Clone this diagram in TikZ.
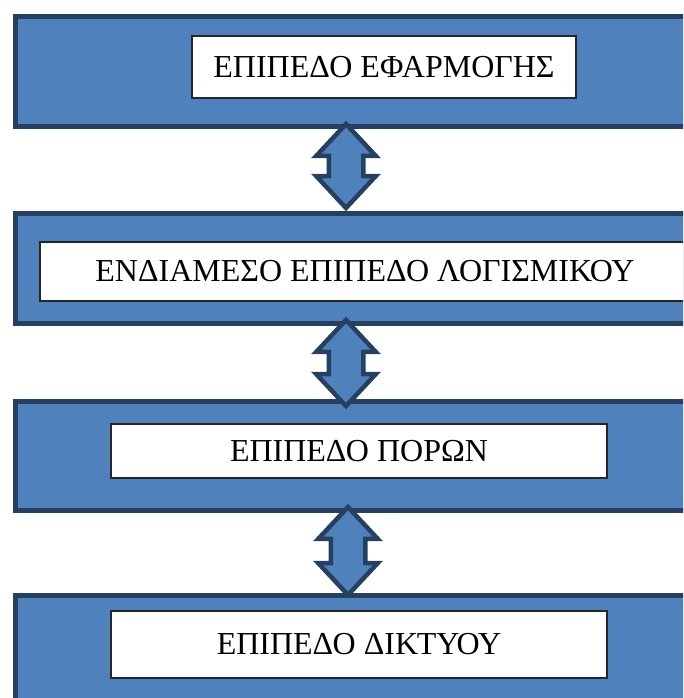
\documentclass[tikz,border=0pt]{standalone}
\usepackage{fontspec}
\setmainfont{Liberation Serif}
\usepackage{tikz}
\usetikzlibrary{shapes.arrows, positioning}
\definecolor{bandfill}{RGB}{79,129,189}
\definecolor{bandline}{RGB}{38,64,97}
\tikzstyle{layer}=[rectangle, draw=bandline, fill=bandfill, line width=5pt, anchor=north west, minimum width=700pt, inner sep=0pt]
\tikzstyle{tag}=[rectangle, draw=black!85, fill=white, line width=1.3pt, inner sep=0pt, font=\fontsize{32}{32}\selectfont]
\tikzstyle{updown}=[double arrow, rotate=90, draw=bandline, fill=bandfill, line width=4.5pt, inner xsep=0pt, inner ysep=15pt, double arrow head extend=12.5pt, double arrow tip angle=86]

\begin{document}
\begin{tikzpicture}[x=1pt, y=-1pt]
    \useasboundingbox (0,0) rectangle (683,698);
    \clip (0,0) rectangle (683,698);

    % layers
    \node[layer, minimum height=110pt] (app) at (12.5,14) {};
    \node[layer, minimum height=110pt] (mid) at (12.5,210.5) {};
    \node[layer, minimum height=109pt] (res) at (12.5,398.5) {};
    \node[layer, minimum height=120pt] (net) at (12.5,592.5) {};

    % labels
    \node[tag, minimum width=384pt, minimum height=62pt] (appt) at (384,67) {ΕΠΙΠΕΔΟ ΕΦΑΡΜΟΓΗΣ};
    \node[tag, minimum width=650pt, minimum height=59pt] (midt) at (365,271.5) {ΕΝΔΙΑΜΕΣΟ ΕΠΙΠΕΔΟ ΛΟΓΙΣΜΙΚΟΥ};
    \node[tag, minimum width=496pt, minimum height=54pt] (rest) at (359,451) {ΕΠΙΠΕΔΟ ΠΟΡΩΝ};
    \node[tag, minimum width=496pt, minimum height=67pt] (nett) at (359,644.5) {ΕΠΙΠΕΔΟ ΔΙΚΤΥΟΥ};

    % arrows between layers
    \node[updown, minimum height=84pt] (a1) at (346,166) {};
    \node[updown, minimum height=86pt] (a2) at (346,363) {};
    \node[updown, minimum height=88pt] (a3) at (348,551) {};
\end{tikzpicture}
\end{document}
